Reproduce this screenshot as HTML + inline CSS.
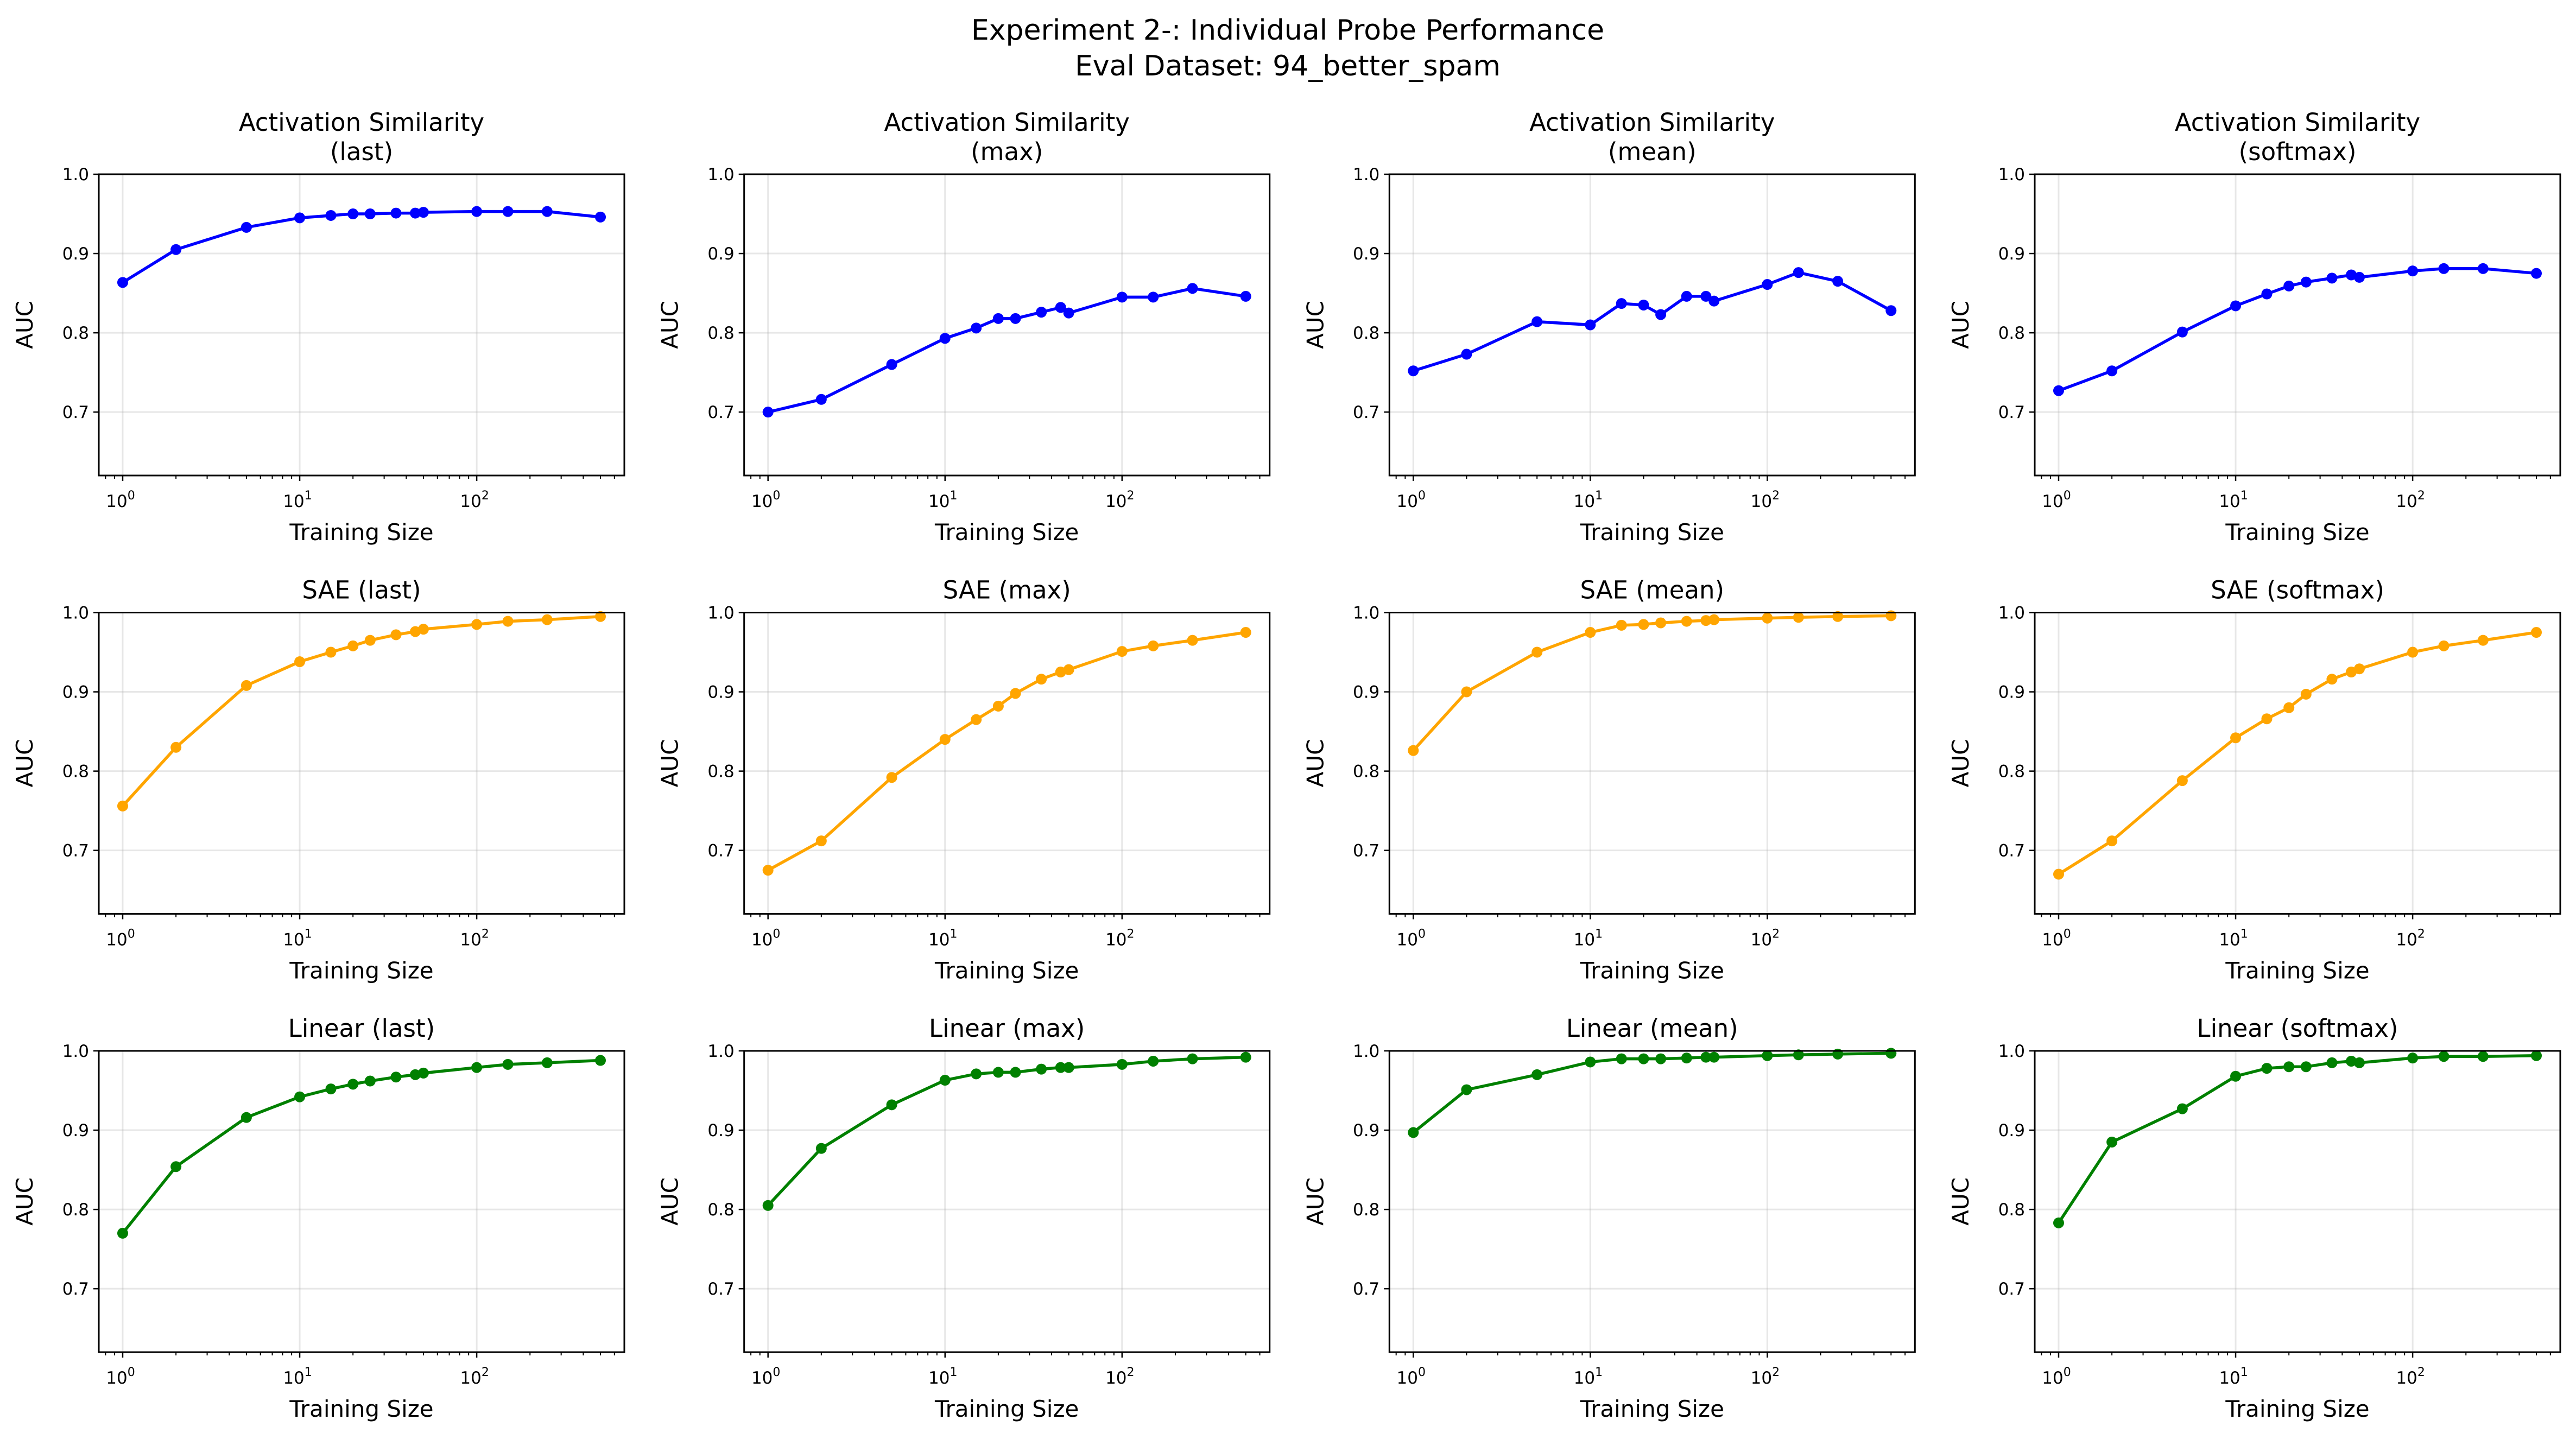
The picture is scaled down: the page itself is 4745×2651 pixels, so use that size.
<!DOCTYPE html>
<html><head><meta charset="utf-8"><style>
html,body{margin:0;padding:0;background:#fff;}
svg{display:block;font-family:"DejaVu Sans","Liberation Sans",sans-serif;}
</style></head><body>
<svg id="fig" width="4745" height="2651" viewBox="0 0 4745 2651" xmlns="http://www.w3.org/2000/svg">
<rect width="4745" height="2651" fill="#fff"/>
<text x="2372" y="73" font-size="52" text-anchor="middle">Experiment 2-: Individual Probe Performance</text>
<text x="2372" y="139" font-size="52" text-anchor="middle">Eval Dataset: 94_better_spam</text>
</svg>
<script>
const trainingSizes = [1,2,5,10,15,20,25,35,45,50,100,150,250,500];
const panelTitles = [["Activation Similarity","(last)"],["Activation Similarity","(max)"],["Activation Similarity","(mean)"],["Activation Similarity","(softmax)"],["SAE (last)"],["SAE (max)"],["SAE (mean)"],["SAE (softmax)"],["Linear (last)"],["Linear (max)"],["Linear (mean)"],["Linear (softmax)"]];
const actLast = [0.8635,0.905,0.933,0.945,0.948,0.950,0.950,0.951,0.951,0.952,0.953,0.953,0.953,0.946];
const actMax = [0.700,0.716,0.760,0.793,0.806,0.818,0.818,0.826,0.832,0.825,0.845,0.845,0.856,0.846];
const actMean = [0.752,0.773,0.814,0.810,0.837,0.835,0.823,0.846,0.846,0.840,0.861,0.876,0.865,0.828];
const actSoftmax = [0.727,0.752,0.801,0.834,0.849,0.859,0.864,0.869,0.873,0.870,0.878,0.881,0.881,0.875];
const saeLast = [0.756,0.830,0.908,0.938,0.950,0.958,0.965,0.972,0.976,0.979,0.985,0.989,0.991,0.995];
const saeMax = [0.675,0.712,0.792,0.840,0.865,0.882,0.898,0.916,0.925,0.928,0.951,0.958,0.965,0.975];
const saeMean = [0.826,0.900,0.950,0.975,0.984,0.985,0.987,0.989,0.990,0.991,0.993,0.994,0.995,0.996];
const saeSoftmax = [0.670,0.712,0.788,0.842,0.866,0.880,0.897,0.916,0.925,0.929,0.950,0.958,0.965,0.975];
const linLast = [0.770,0.854,0.916,0.942,0.952,0.958,0.962,0.967,0.970,0.972,0.979,0.983,0.985,0.988];
const linMax = [0.805,0.877,0.932,0.963,0.971,0.973,0.973,0.977,0.979,0.979,0.983,0.987,0.990,0.992];
const linMean = [0.897,0.951,0.970,0.986,0.990,0.990,0.990,0.991,0.992,0.992,0.994,0.995,0.996,0.997];
const linSoftmax = [0.783,0.885,0.927,0.968,0.978,0.980,0.980,0.985,0.987,0.985,0.991,0.993,0.993,0.994];
const yTicks = [0.7,0.8,0.9,1.0];
const yTickLabels = ["0.7","0.8","0.9","1.0"];
const xDecades = [0,1,2];

const series = [actLast,actMax,actMean,actSoftmax,saeLast,saeMax,saeMean,saeSoftmax,linLast,linMax,linMean,linSoftmax];
const rowColors = ["#0000ff","#ffa500","#008000"];
const NS = "http://www.w3.org/2000/svg";
const svg = document.getElementById('fig');
function mk(tag, attrs, parent){const e=document.createElementNS(NS,tag);for(const k in attrs)e.setAttribute(k,attrs[k]);(parent||svg).appendChild(e);return e;}

const W=968, H=555, lefts=[182,1370.7,2559.3,3748], tops=[321,1128.5,1936];
const xMin=-0.1349, xMax=2.8339, yMin=0.62, yMax=1.0;

for(let p=0;p<12;p++){
  const r=Math.floor(p/4), c=p%4, L=lefts[c], T=tops[r];
  const xs=v=>L+(Math.log10(v)-xMin)/(xMax-xMin)*W;
  const ys=v=>T+(yMax-v)/(yMax-yMin)*H;
  const g=mk('g',{});
  
  
  xDecades.forEach(d=>{const gl=mk('line',{x1:xs(Math.pow(10,d)),x2:xs(Math.pow(10,d)),y1:T,y2:T+H,stroke:'#b0b0b0','stroke-opacity':0.3,'stroke-width':3},g);
    });
  yTicks.forEach(t=>{const gl=mk('line',{x1:L,x2:L+W,y1:ys(t),y2:ys(t),stroke:'#b0b0b0','stroke-opacity':0.3,'stroke-width':3},g);
    });
  const data=series[p], col=rowColors[r];
  const pl=mk('polyline',{points:trainingSizes.map((x,i)=>xs(x)+','+ys(data[i])).join(' '),fill:'none',stroke:col,'stroke-width':5.5,'stroke-linejoin':'round'},g);
  
  trainingSizes.forEach((x,i)=>{const m=mk('circle',{cx:xs(x),cy:ys(data[i]),r:10,fill:col},g);
    });
  const fr=mk('rect',{x:L,y:T,width:W,height:H,fill:'none',stroke:'#000','stroke-width':3},g);
  
  yTicks.forEach((t,i)=>{mk('line',{x1:L-10,x2:L,y1:ys(t),y2:ys(t),stroke:'#000','stroke-width':2.5},g);
    const tl=mk('text',{x:L-18,y:ys(t)+11,'font-size':31,'text-anchor':'end'},g);tl.textContent=yTickLabels[i];
    });
  for(let d=-1;d<=2;d++){for(let k=1;k<=9;k++){const v=k*Math.pow(10,d);const lv=Math.log10(v);if(lv<xMin||lv>xMax)continue;
    const X=xs(v);mk('line',{x1:X,x2:X,y1:T+H,y2:T+H+(k===1?10:6),stroke:'#000','stroke-width':k===1?2.5:2},g);}}
  xDecades.forEach(d=>{const tl=mk('text',{x:xs(Math.pow(10,d))-4,y:T+H+58,'font-size':31,'text-anchor':'middle'},g);
    tl.textContent='10';const sp=mk('tspan',{dy:-14,'font-size':22},tl);sp.textContent=String(d);
    });
  const xl=mk('text',{x:L+W/2,y:T+H+119,'font-size':42,'text-anchor':'middle'},g);xl.textContent='Training Size';
  
  const yl=mk('text',{x:0,y:0,'font-size':42,'text-anchor':'middle',transform:`translate(${L-122},${T+H/2}) rotate(-90)`},g);yl.textContent='AUC';
  
  const tt=panelTitles[p];
  tt.forEach((s,i)=>{const te=mk('text',{x:L+W/2,y:T-26-(tt.length-1-i)*54,'font-size':45,'text-anchor':'middle'},g);te.textContent=s;
    });
}
</script>
</body></html>
